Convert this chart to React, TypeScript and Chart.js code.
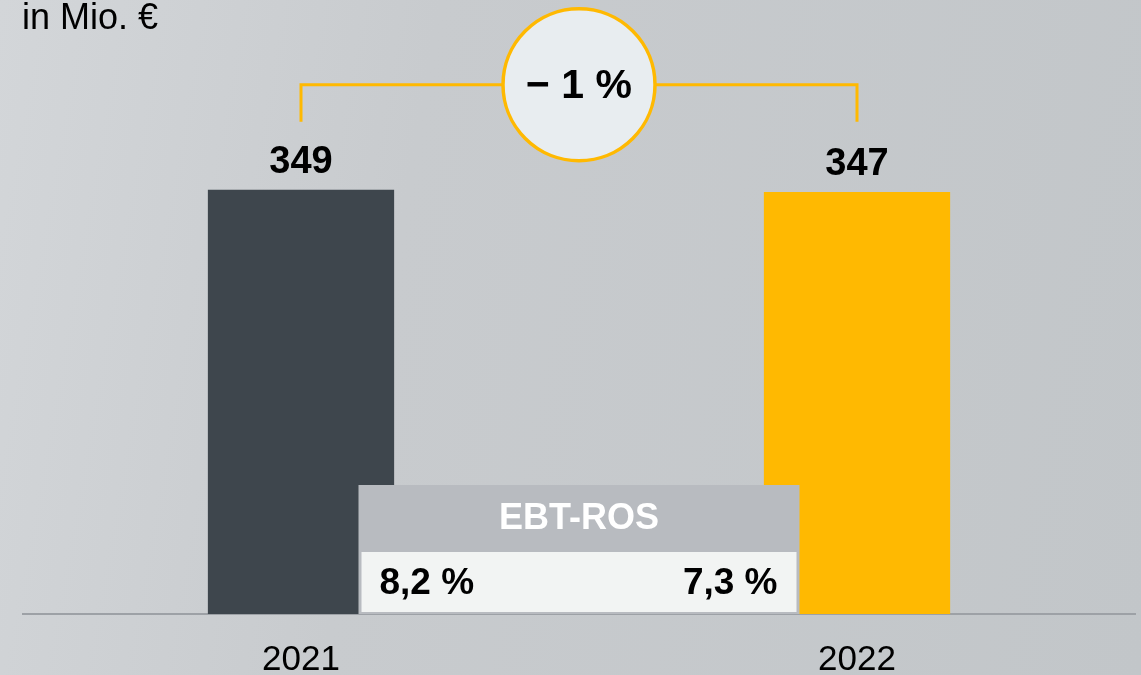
import React, { useEffect, useRef } from "react";
import { Chart, registerables } from "chart.js";

Chart.register(...registerables);

const categories = ["2021", "2022"];
const values = [349, 347];
const valueLabels = ["349", "347"];
const ebtRosValues = ["8,2 %", "7,3 %"];
const ebtRosTitle = "EBT-ROS";
const changeLabel = "\u2212 1 %";
const unitLabel = "in Mio. \u20ac";
const barColors = ["#3e464d", "#ffb901"];

const FONT = "'Liberation Sans', Arial, sans-serif";

const overlayPlugin = {
  id: "overlay",
  afterDatasetsDraw(chart: any) {
    const ctx = chart.ctx as CanvasRenderingContext2D;
    const meta = chart.getDatasetMeta(0);
    const area = chart.chartArea;
    const bars = meta.data as any[];
    ctx.save();

    // unit label
    ctx.fillStyle = "#000";
    ctx.font = `36px ${FONT}`;
    ctx.textAlign = "left";
    ctx.textBaseline = "alphabetic";
    ctx.fillText(unitLabel, 22, 29);

    // value labels
    ctx.font = `bold 38px ${FONT}`;
    ctx.textAlign = "center";
    bars.forEach((b, i) => {
      ctx.fillText(valueLabels[i], b.x, b.y - 17);
    });

    // bracket
    const topBar = Math.min(...bars.map((b) => b.y));
    const tickBottom = topBar - 68;
    const lineY = tickBottom - 37;
    const x0 = bars[0].x;
    const x1 = bars[1].x;
    const cx = (x0 + x1) / 2;
    ctx.strokeStyle = "#ffb901";
    ctx.lineWidth = 3;
    ctx.beginPath();
    ctx.moveTo(x0, tickBottom);
    ctx.lineTo(x0, lineY);
    ctx.lineTo(x1, lineY);
    ctx.lineTo(x1, tickBottom);
    ctx.stroke();

    // circle
    ctx.beginPath();
    ctx.arc(cx, lineY, 76, 0, Math.PI * 2);
    ctx.fillStyle = "#e8edf0";
    ctx.fill();
    ctx.lineWidth = 3.5;
    ctx.stroke();
    ctx.fillStyle = "#000";
    ctx.font = `bold 41px ${FONT}`;
    ctx.textBaseline = "middle";
    ctx.fillText(changeLabel, cx, lineY + 2);

    // EBT-ROS box
    const boxLeft = cx - 220.5;
    const boxRight = cx + 220.5;
    const boxBottom = area.bottom;
    const boxTop = boxBottom - 129;
    const headerBottom = boxTop + 67;
    ctx.fillStyle = "#b8bbc0";
    ctx.fillRect(boxLeft, boxTop, boxRight - boxLeft, boxBottom - boxTop);
    ctx.fillStyle = "#f2f4f3";
    ctx.fillRect(boxLeft + 3, headerBottom, boxRight - boxLeft - 6, boxBottom - headerBottom - 2);
    ctx.fillStyle = "#ffffff";
    ctx.font = `bold 36px ${FONT}`;
    ctx.textAlign = "center";
    ctx.textBaseline = "middle";
    ctx.fillText(ebtRosTitle, cx, (boxTop + headerBottom) / 2 + 1);
    ctx.fillStyle = "#000";
    ctx.font = `bold 37px ${FONT}`;
    const rowY = (headerBottom + boxBottom) / 2 + 1;
    ctx.textAlign = "left";
    ctx.fillText(ebtRosValues[0], boxLeft + 21, rowY);
    ctx.textAlign = "right";
    ctx.fillText(ebtRosValues[1], boxRight - 22, rowY);

    ctx.restore();
  },
};

export default function App() {
  const ref = useRef<HTMLCanvasElement>(null);
  useEffect(() => {
    if (!ref.current) return;
    const chart = new Chart(ref.current, {
      type: "bar",
      data: {
        labels: categories,
        datasets: [
          {
            data: values,
            backgroundColor: barColors,
            barPercentage: 0.335,
            categoryPercentage: 1,
          },
        ],
      },
      options: {
        animation: false,
        responsive: true,
        maintainAspectRatio: false,
        layout: { padding: { left: 23, right: 6, top: 0, bottom: 0 } },
        plugins: { legend: { display: false }, tooltip: { enabled: false } },
        scales: {
          y: { display: false, min: 0, max: 505 },
          x: {
            grid: { display: false, drawTicks: false },
            border: { display: true, color: "#9da1a6", width: 2 },
            ticks: {
              color: "#000",
              font: { family: FONT, size: 35 },
              padding: 25,
            },
            afterFit: (scale: any) => {
              scale.height = 61;
            },
          },
        },
      },
      plugins: [overlayPlugin],
    });
    return () => chart.destroy();
  }, []);
  return (
    <div
      style={{
        position: "fixed",
        left: 0,
        top: 0,
        width: 1141,
        height: 675,
        background: "linear-gradient(100deg, #d3d6d9 0%, #c8cbce 35%, #c2c6c9 100%)",
      }}
    >
      <canvas ref={ref} />
    </div>
  );
}
